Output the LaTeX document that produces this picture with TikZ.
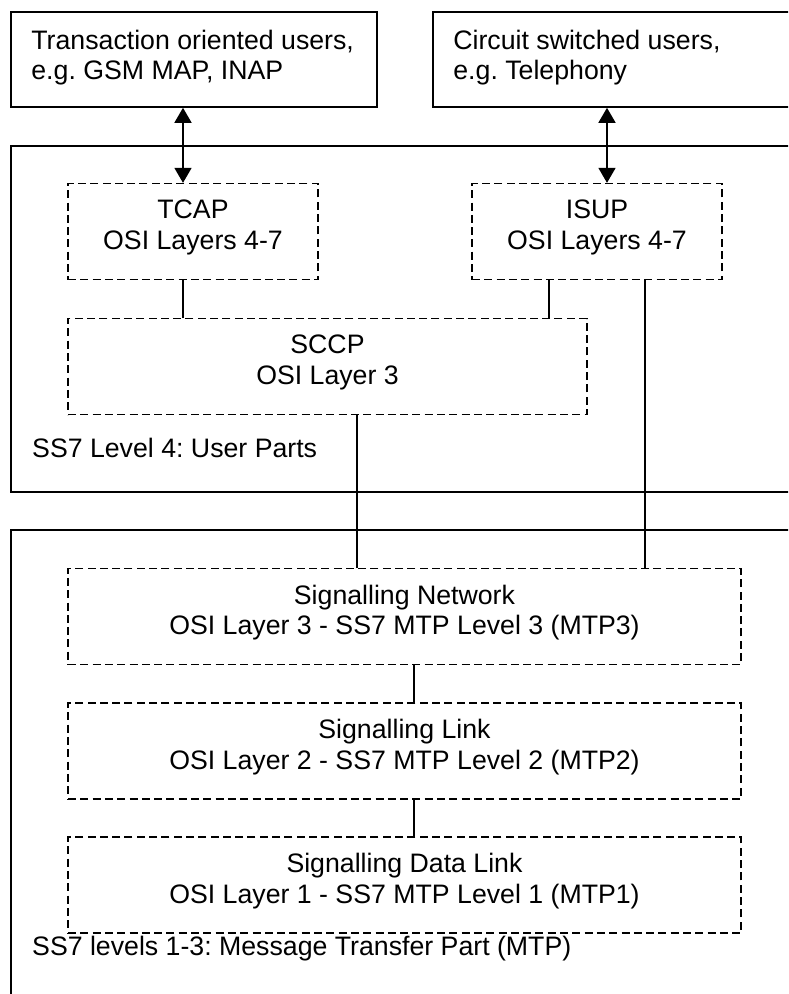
\documentclass[tikz,border=0pt]{standalone}
\usepackage{fontspec}
\setmainfont{Liberation Sans}
\usetikzlibrary{arrows.meta,calc}
\begin{document}
\frenchspacing
\begin{tikzpicture}[x=1pt,y=-1pt,
  txt/.style={font=\fontsize{26.7}{30.5}\selectfont, inner sep=0pt},
  solidbox/.style={draw, line width=1.6pt, rectangle, inner sep=0pt},
  dbox/.style={draw, line width=1.3pt, dash pattern=on 8pt off 4.3pt, rectangle, inner sep=0pt, minimum height=96pt},
  conn/.style={line width=1.6pt},
  biarrow/.style={line width=1.6pt, {Triangle[length=15pt,width=17pt]}-{Triangle[length=15pt,width=17pt]}}
]
\useasboundingbox (0,0) rectangle (788,994);
\clip (0,0) rectangle (788,994);
\fill[white] (0,0) rectangle (788,994);

% outer boxes
\node[solidbox, minimum width=800pt, minimum height=346pt] (lvl4) at (411,319) {};
\node[solidbox, minimum width=800pt, minimum height=490pt] (mtp) at (411,775) {};

% user boxes
\node[solidbox, minimum width=366pt, minimum height=95pt] (ua) at (194,59.5) {};
\node[solidbox, minimum width=400pt, minimum height=95pt] (ub) at (633,59.5) {};
\node[txt, anchor=west, align=left] (uat) at ([xshift=21pt,yshift=2pt]ua.west) {Transaction oriented users,\\e.g. GSM MAP, INAP};
\node[txt, anchor=west, align=left] (ubt) at ([xshift=21pt,yshift=2pt]ub.west) {Circuit switched users,\\e.g. Telephony};

% user part boxes
\node[dbox, minimum width=250pt] (tcap) at (193,231.5) {};
\node[dbox, minimum width=250pt] (isup) at (597,231.5) {};
\node[dbox, minimum width=519pt] (sccp) at (327.5,366.5) {};
\node[txt, align=center] (tcapt) at ([yshift=4pt]tcap.center) {TCAP\\OSI Layers 4-7};
\node[txt, align=center] (isupt) at ([yshift=4pt]isup.center) {ISUP\\OSI Layers 4-7};
\node[txt, align=center] (sccpt) at ([yshift=4pt]sccp.center) {SCCP\\OSI Layer 3};
\node[txt, anchor=base west] (lvl4t) at (32,457) {SS7 Level 4: User Parts};

% MTP boxes
\node[dbox, minimum width=673pt] (signet) at (404.5,616.5) {};
\node[dbox, minimum width=673pt] (siglink) at (404.5,751) {};
\node[dbox, minimum width=673pt] (datalink) at (404.5,885) {};
\node[txt, align=center] (signett) at ([yshift=4pt]signet.center) {Signalling Network\\OSI Layer 3 - SS7 MTP Level 3 (MTP3)};
\node[txt, align=center] (siglinkt) at ([yshift=4pt]siglink.center) {Signalling Link\\OSI Layer 2 - SS7 MTP Level 2 (MTP2)};
\node[txt, align=center] (datalinkt) at ([yshift=4pt]datalink.center) {Signalling Data Link\\OSI Layer 1 - SS7 MTP Level 1 (MTP1)};
\node[txt, anchor=base west] (mtpt) at (32,955) {SS7 levels 1-3: Message Transfer Part (MTP)};

% connector x positions
\coordinate (xa) at (183,0);
\coordinate (xb) at (607,0);
\coordinate (xc) at (549,0);
\coordinate (xd) at (645,0);
\coordinate (xe) at (357,0);
\coordinate (xf) at (414,0);

% connectors
\draw[biarrow] (ua.south -| xa) -- (tcap.north -| xa);
\draw[biarrow] (ub.south -| xb) -- (isup.north -| xb);
\draw[conn] (tcap.south -| xa) -- (sccp.north -| xa);
\draw[conn] (isup.south -| xc) -- (sccp.north -| xc);
\draw[conn] (isup.south -| xd) -- (signet.north -| xd);
\draw[conn] (sccp.south -| xe) -- (signet.north -| xe);
\draw[conn] (signet.south -| xf) -- (siglink.north -| xf);
\draw[conn] (siglink.south -| xf) -- (datalink.north -| xf);
\end{tikzpicture}
\end{document}
